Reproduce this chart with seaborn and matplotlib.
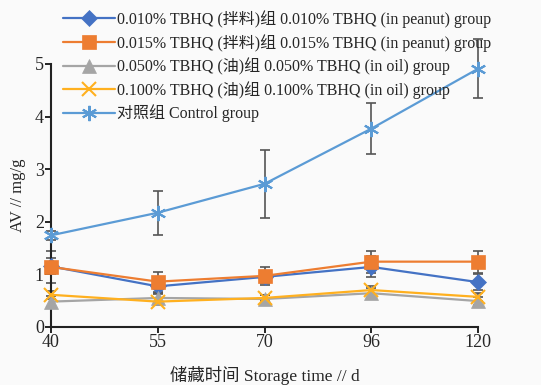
import matplotlib
matplotlib.use("Agg")
import matplotlib.pyplot as plt
import numpy as np
import pandas as pd
import seaborn as sns

# Données
jours = ["40", "55", "70", "96", "120"]
groupes = [
    "0.010% TBHQ (拌料)组 0.010% TBHQ (in peanut) group",
    "0.015% TBHQ (拌料)组 0.015% TBHQ (in peanut) group",
    "0.050% TBHQ (油)组 0.050% TBHQ (in oil) group",
    "0.100% TBHQ (油)组 0.100% TBHQ (in oil) group",
    "对照组 Control group",
]
av_010 = [1.15, 0.77, 0.95, 1.14, 0.85]
av_015 = [1.14, 0.86, 0.97, 1.24, 1.24]
av_050 = [0.48, 0.55, 0.53, 0.64, 0.49]
av_100 = [0.61, 0.48, 0.55, 0.70, 0.57]
av_ctrl = [1.74, 2.17, 2.72, 3.77, 4.91]
err_010 = [0.15, 0.12, 0.12, 0.20, 0.15]
err_015 = [0.30, 0.19, 0.17, 0.21, 0.21]
err_050 = [0.10, 0.08, 0.08, 0.10, 0.08]
err_100 = [0.08, 0.06, 0.06, 0.08, 0.07]
err_ctrl = [0.08, 0.42, 0.65, 0.48, 0.56]

couleurs = ["#4472C4", "#ED7D31", "#A5A5A5", "#FFB01F", "#5B9BD5"]
marqueurs = ["D", "s", "^", "x", (6, 2, 0)]
tailles = [8, 10, 10, 10, 11]

valeurs = [av_010, av_015, av_050, av_100, av_ctrl]
erreurs = [err_010, err_015, err_050, err_100, err_ctrl]

rows = []
for g, vals in zip(groupes, valeurs):
    for i, v in enumerate(vals):
        rows.append({"pos": i, "jour": jours[i], "groupe": g, "AV": v})
df = pd.DataFrame(rows)

sns.set_style("ticks")
plt.rcParams["font.family"] = ["Liberation Serif", "Noto Sans CJK SC"]

fig = plt.figure(figsize=(5.41, 3.85), dpi=100, facecolor="#fafafa")
ax = fig.add_axes([0.094, 0.151, 0.790, 0.683])
ax.set_facecolor("#fafafa")

# barres d'erreur
for vals, errs in zip(valeurs, erreurs):
    ax.errorbar(range(len(jours)), vals, yerr=errs, fmt="none", ecolor="#555555",
                elinewidth=1.2, capsize=3.5, capthick=1.2, clip_on=False, zorder=2)

for g, c, m, s in zip(groupes, couleurs, marqueurs, tailles):
    sub = df[df["groupe"] == g]
    sns.lineplot(data=sub, x="pos", y="AV", color=c, marker=m, markersize=s,
                 markeredgecolor=c, markeredgewidth=1.5 if m in ("x",) or isinstance(m, tuple) else 0.5,
                 linewidth=1.6, label=g, ax=ax, clip_on=False, zorder=3)

ax.set_xlim(0, len(jours) - 1)
ax.set_ylim(0, 5)
ax.set_xticks(range(len(jours)))
ax.set_xticklabels(jours)
ax.set_yticks(range(0, 6))
ax.tick_params(axis="both", labelsize=13, length=4, width=1.2, color="black", pad=1)
for sp in ["top", "right"]:
    ax.spines[sp].set_visible(False)
for sp in ["left", "bottom"]:
    ax.spines[sp].set_linewidth(1.5)
    ax.spines[sp].set_color("#222222")

ax.set_xlabel("储藏时间 Storage time // d", fontsize=12.5, labelpad=11)
ax.set_ylabel("AV // mg/g", fontsize=12, labelpad=6)

leg = ax.legend(loc="upper left", bbox_to_anchor=(0.104, 0.99), bbox_transform=fig.transFigure,
                frameon=False, fontsize=11.5, handlelength=3.3, handletextpad=0.1,
                labelspacing=0.36, borderaxespad=0)

fig.savefig("out.png", dpi=100, facecolor=fig.get_facecolor())
